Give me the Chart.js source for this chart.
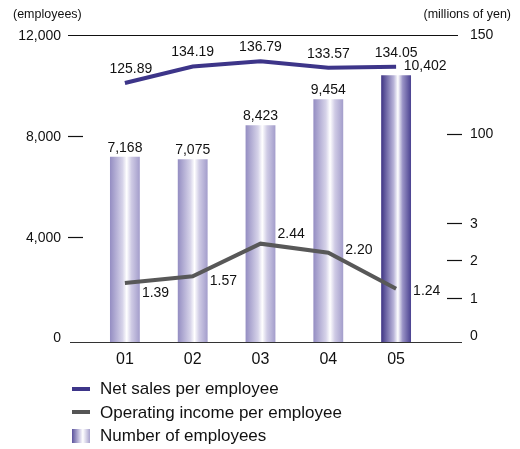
<!DOCTYPE html>
<html lang="en">
<head>
<meta charset="UTF-8" />
<title>Employees and per-employee results</title>
<script src="https://cdn.jsdelivr.net/npm/chart.js@4.4.1/dist/chart.umd.min.js"></script>
<style>
  *{margin:0;padding:0;box-sizing:border-box}
  body{background:#fff;font-family:"Liberation Sans",Arial,sans-serif;color:#111}
  .wrap{position:relative;width:520px;height:449px}
  .legend{position:absolute;left:72px;top:377px;font-size:17px;line-height:23.5px}
  .legend div{display:flex;align-items:center;white-space:nowrap}
  .legend i{display:inline-block;width:18px;margin-right:10px}
  .legend .ns{height:4px;background:#3d3589}
  .legend .oi{height:4px;background:#555}
  .legend .bar{height:14px;background:linear-gradient(90deg,#5b529d,#d8d5ea 45%,#fff 60%,#a7a1cd)}
</style>
</head>
<body>
<div class="wrap">
  <canvas id="chart"></canvas>
  <div class="legend">
    <div><i class="ns"></i>Net sales per employee</div>
    <div><i class="oi"></i>Operating income per employee</div>
    <div><i class="bar"></i>Number of employees</div>
  </div>
</div>
<script>
  // data
  const years = ['01', '02', '03', '04', '05'];
  const employees = [7168, 7075, 8423, 9454, 10402];
  const netSales = [125.89, 134.19, 136.79, 133.57, 134.05];
  const opIncome = [1.39, 1.57, 2.44, 2.20, 1.24];
  const leftTicks = [0, 4000, 8000, 12000];
  const salesTicks = [100, 150];
  const incomeTicks = [0, 1, 2, 3];

  // label nudges (style only)
  const barLabelDx = [0, 0, 0, 0, 29];
  const salesLabelDx = [6, 0, 0, 0, 0];
  const incomeLabelDy = [10, 5, -10, -3, 2];

  const FONT = '"Liberation Sans", Arial, sans-serif';
  const BAR_PCT = 0.44;

  function barFill(c) {
    const chart = c.chart, area = chart.chartArea;
    if (!area || c.type !== 'data') return '#9d97c8';
    const x = chart.scales.x.getPixelForValue(c.dataIndex);
    const half = (area.right - area.left) / years.length * BAR_PCT / 2;
    const g = chart.ctx.createLinearGradient(x - half, 0, x + half, 0);
    const last = c.dataIndex === employees.length - 1;
    g.addColorStop(0, last ? '#3e3484' : '#948dc2');
    g.addColorStop(0.42, last ? '#b9b4d9' : '#d6d3e9');
    g.addColorStop(0.56, '#ffffff');
    g.addColorStop(0.72, last ? '#9a93c6' : '#cfcbe5');
    g.addColorStop(1, last ? '#4a4190' : '#a39dcb');
    return g;
  }

  const decor = {
    id: 'decor',
    afterDatasetsDraw(chart) {
      const {ctx, chartArea: a, scales} = chart;
      const {x, yL, yNS, yOI} = scales;
      const hline = (x1, x2, y, w, col) => {
        ctx.beginPath();
        ctx.strokeStyle = col; ctx.lineWidth = w;
        ctx.moveTo(x1, y); ctx.lineTo(x2, y); ctx.stroke();
      };
      ctx.save();
      ctx.fillStyle = '#111';

      // unit titles
      ctx.font = '12.5px ' + FONT;
      ctx.textBaseline = 'middle';
      ctx.textAlign = 'left';
      ctx.fillText('(employees)', 13, 15);
      ctx.textAlign = 'right';
      ctx.fillText('(millions of yen)', 511, 15);

      // top and bottom rules
      hline(68, 458, Math.round(yL.getPixelForValue(12000)) + 0.5, 1.2, '#111');
      hline(70, 462, Math.round(a.bottom) + 0.5, 1.2, '#333');

      // left axis
      ctx.font = '14px ' + FONT;
      ctx.textAlign = 'right';
      leftTicks.forEach((v, i) => {
        const y = yL.getPixelForValue(v);
        ctx.fillText(v.toLocaleString('en-US'), 61, v === 0 ? y + 1 : y + 1);
        if (i > 0 && i < leftTicks.length - 1) hline(68, 83, Math.round(y) + 0.5, 1.2, '#111');
      });

      // right axis (two scales sharing one side)
      ctx.textAlign = 'left';
      salesTicks.forEach((v, i) => {
        const y = yNS.getPixelForValue(v);
        ctx.fillText(String(v), 470, y);
        if (i < salesTicks.length - 1) hline(447, 462, Math.round(y) + 0.5, 1.2, '#111');
      });
      incomeTicks.forEach(v => {
        const y = yOI.getPixelForValue(v);
        ctx.fillText(String(v), 470, y + 1);
        if (v > 0) hline(447, 462, Math.round(y) + 0.5, 1.2, '#111');
      });

      // bar values
      ctx.font = '14px ' + FONT;
      ctx.textAlign = 'center';
      employees.forEach((v, i) => {
        const px = x.getPixelForValue(i) + barLabelDx[i];
        ctx.fillText(v.toLocaleString('en-US'), px, yL.getPixelForValue(v) - 9);
      });

      // net sales values
      netSales.forEach((v, i) => {
        const px = x.getPixelForValue(i) + salesLabelDx[i];
        ctx.fillText(v.toFixed(2), px, yNS.getPixelForValue(v) - 14);
      });

      // operating income values
      ctx.textAlign = 'left';
      opIncome.forEach((v, i) => {
        const px = x.getPixelForValue(i) + 17;
        ctx.fillText(v.toFixed(2), px, yOI.getPixelForValue(v) + incomeLabelDy[i]);
      });
      ctx.restore();
    }
  };

  new Chart(document.getElementById('chart'), {
    data: {
      labels: years,
      datasets: [
        {
          type: 'line', label: 'Net sales per employee', data: netSales, yAxisID: 'yNS',
          borderColor: '#3d3589', borderWidth: 4, pointRadius: 0, order: 1
        },
        {
          type: 'line', label: 'Operating income per employee', data: opIncome, yAxisID: 'yOI',
          borderColor: '#585858', borderWidth: 4, pointRadius: 0, order: 2
        },
        {
          type: 'bar', label: 'Number of employees', data: employees, yAxisID: 'yL',
          backgroundColor: barFill, borderWidth: 0, base: -180,
          categoryPercentage: 1, barPercentage: BAR_PCT, order: 3
        }
      ]
    },
    options: {
      responsive: true,
      maintainAspectRatio: false,
      animation: false,
      layout: {padding: {left: 91, right: 90, top: 35, bottom: 0}},
      plugins: {legend: {display: false}, tooltip: {enabled: false}},
      scales: {
        x: {
          grid: {display: false, drawTicks: false},
          border: {display: false},
          ticks: {color: '#111', font: {family: FONT, size: 16}, padding: 8},
          afterFit: s => { s.height = 107; }
        },
        yL: {display: false, min: -180, max: 12000},
        yNS: {display: false, min: -4.3, max: 150},
        yOI: {display: false, min: -0.18, max: 8.0}
      }
    },
    plugins: [decor]
  });
</script>
</body>
</html>
